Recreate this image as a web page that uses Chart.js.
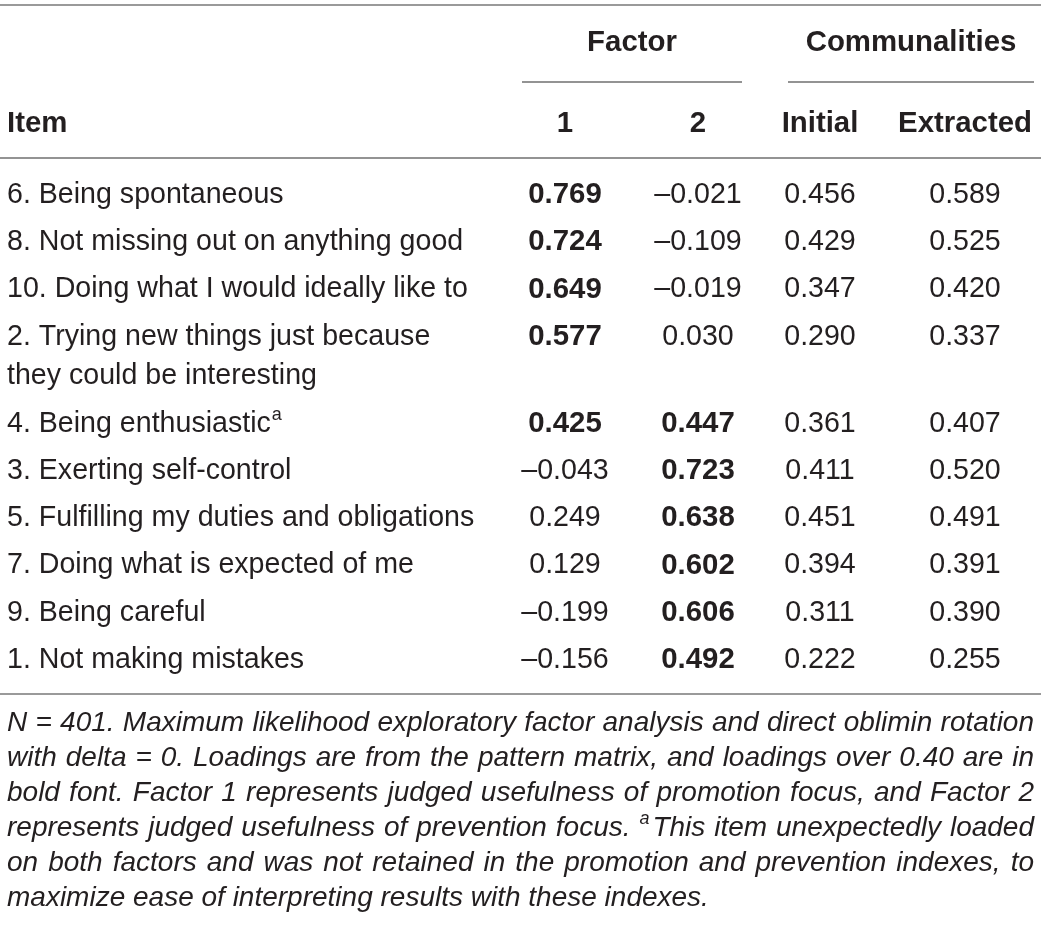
<!DOCTYPE html>
<html>
<head>
<meta charset="utf-8">
<script src="https://cdn.jsdelivr.net/npm/chart.js@4.4.1/dist/chart.umd.min.js"></script>
<style>
  html, body { margin: 0; padding: 0; background: #fff; }
  #wrap { width: 1041px; height: 930px; }
</style>
</head>
<body>
<div id="wrap"><canvas id="factorTable" width="1041" height="930"></canvas></div>
<script>
// table content
const items = [
  "6. Being spontaneous",
  "8. Not missing out on anything good",
  "10. Doing what I would ideally like to",
  "2. Trying new things just because|they could be interesting",
  "4. Being enthusiastic",
  "3. Exerting self-control",
  "5. Fulfilling my duties and obligations",
  "7. Doing what is expected of me",
  "9. Being careful",
  "1. Not making mistakes",
];
const itemMarks = ["", "", "", "", "a", "", "", "", "", ""];

const factor1 = [0.769, 0.724, 0.649, 0.577, 0.425, -0.043, 0.249, 0.129, -0.199, -0.156];
const factor2 = [-0.021, -0.109, -0.019, 0.030, 0.447, 0.723, 0.638, 0.602, 0.606, 0.492];
const initial = [0.456, 0.429, 0.347, 0.290, 0.361, 0.411, 0.451, 0.394, 0.311, 0.222];
const extracted = [0.589, 0.525, 0.420, 0.337, 0.407, 0.520, 0.491, 0.391, 0.390, 0.255];

const columnHeads = ["1", "2", "Initial", "Extracted"];
const groupHeads = ["Factor", "Communalities"];
const itemHead = "Item";
const boldOver = 0.40;

const footnote = [
  "N = 401. Maximum likelihood exploratory factor analysis and direct oblimin rotation",
  "with delta = 0. Loadings are from the pattern matrix, and loadings over 0.40 are in",
  "bold font. Factor 1 represents judged usefulness of promotion focus, and Factor 2",
  "represents judged usefulness of prevention focus. ^aThis item unexpectedly loaded",
  "on both factors and was not retained in the promotion and prevention indexes, to",
  "maximize ease of interpreting results with these indexes.",
];

// layout (pixels on the 1041 x 930 canvas)
const FONT = "'Liberation Sans', Arial, Helvetica, sans-serif";
const REG = "28.6px " + FONT;
const BOLD = "bold 29.4px " + FONT;
const NOTE = "italic 28px " + FONT;
const NOTE_SUP = "italic 18px " + FONT;
const INK = "#231f20";
const layout = {
  itemX: 7,
  colX: [565, 698, 820, 965],
  groupSpan: [[522, 742], [788, 1034]],
  groupY: 43,
  headY: 124,
  firstRowY: 195,
  rowStep: 47.3,
  wrapStep: 39.5,
  topRule: 5,
  underline: 82,
  headRule: 158,
  bottomRule: 694,
  noteY: 723,
  noteStep: 35,
  left: 7,
  right: 1034,
};

function fmt(v) {
  const s = Math.abs(v).toFixed(3);
  return v < 0 ? "\u2013" + s : s;
}

// row centres, a wrapped item pushes the following rows down
const rowY = [];
let yAcc = layout.firstRowY;
items.forEach((label) => {
  rowY.push(yAcc);
  yAcc += layout.rowStep + (label.split("|").length - 1) * layout.wrapStep;
});

const numCols = [factor1, factor2, initial, extracted];
const datasets = [
  {
    label: itemHead,
    data: items.map((t, i) => ({ x: layout.itemX, y: rowY[i] })),
    cells: items.map((t, i) => ({ text: t, mark: itemMarks[i], bold: false })),
    align: "left",
  },
].concat(
  numCols.map((vals, c) => ({
    label: columnHeads[c],
    data: vals.map((v, i) => ({ x: layout.colX[c], y: rowY[i] })),
    cells: vals.map((v) => ({ text: fmt(v), bold: c < 2 && Math.abs(v) > boldOver })),
    align: "center",
  }))
);
datasets.forEach((d) => { d.pointRadius = 0; d.showLine = false; });

function hLine(ctx, x0, x1, yy, w, col) {
  ctx.beginPath();
  ctx.strokeStyle = col;
  ctx.lineWidth = w;
  ctx.moveTo(x0, yy);
  ctx.lineTo(x1, yy);
  ctx.stroke();
}

const tablePlugin = {
  id: "tableText",
  afterDatasetsDraw(chart) {
    const ctx = chart.ctx;
    const sx = chart.scales.x;
    const sy = chart.scales.y;
    const px = (v) => sx.getPixelForValue(v);
    const py = (v) => sy.getPixelForValue(v);
    ctx.save();

    // rules
    hLine(ctx, 0, px(1041), py(layout.topRule), 2, "#9a9a9a");
    hLine(ctx, 0, px(1041), py(layout.headRule), 1.6, "#6f6f6f");
    hLine(ctx, 0, px(1041), py(layout.bottomRule), 2, "#9a9a9a");
    layout.groupSpan.forEach((s) => hLine(ctx, px(s[0]), px(s[1]), py(layout.underline), 1.6, "#6f6f6f"));

    ctx.fillStyle = INK;
    ctx.textBaseline = "middle";

    // headers
    ctx.font = BOLD;
    ctx.textAlign = "center";
    groupHeads.forEach((g, i) => {
      const s = layout.groupSpan[i];
      ctx.fillText(g, px((s[0] + s[1]) / 2), py(layout.groupY));
    });
    columnHeads.forEach((h, c) => ctx.fillText(h, px(layout.colX[c]), py(layout.headY)));
    ctx.textAlign = "left";
    ctx.fillText(itemHead, px(layout.itemX), py(layout.headY));

    // cells
    chart.data.datasets.forEach((ds, di) => {
      const meta = chart.getDatasetMeta(di);
      meta.data.forEach((pt, i) => {
        const cell = ds.cells[i];
        ctx.font = cell.bold ? BOLD : REG;
        ctx.textAlign = ds.align;
        const lines = cell.text.split("|");
        lines.forEach((ln, k) => {
          ctx.fillText(ln, pt.x, pt.y + k * layout.wrapStep);
        });
        if (cell.mark) {
          const w = ctx.measureText(lines[lines.length - 1]).width;
          ctx.font = "18px " + FONT;
          ctx.textAlign = "left";
          ctx.fillText(cell.mark, pt.x + w + 1, pt.y - 9);
        }
      });
    });

    // footnote, justified
    const full = px(layout.right) - px(layout.left);
    footnote.forEach((line, li) => {
      const yy = py(layout.noteY + li * layout.noteStep);
      const words = line.split(" ");
      ctx.font = NOTE;
      const widths = words.map((w) => {
        if (w.startsWith("^")) {
          ctx.font = NOTE_SUP;
          const a = ctx.measureText(w[1]).width;
          ctx.font = NOTE;
          return a + 3 + ctx.measureText(w.slice(2)).width;
        }
        return ctx.measureText(w).width;
      });
      const sum = widths.reduce((a, b) => a + b, 0);
      const space = ctx.measureText(" ").width;
      const gap = li < footnote.length - 1 ? (full - sum) / (words.length - 1) : space;
      let xx = px(layout.left);
      ctx.textAlign = "left";
      words.forEach((w, k) => {
        if (w.startsWith("^")) {
          ctx.font = NOTE_SUP;
          ctx.fillText(w[1], xx, yy - 9);
          const a = ctx.measureText(w[1]).width;
          ctx.font = NOTE;
          ctx.fillText(w.slice(2), xx + a + 3, yy);
        } else {
          ctx.fillText(w, xx, yy);
        }
        xx += widths[k] + gap;
      });
    });
    ctx.restore();
  },
};

new Chart("factorTable", {
  type: "scatter",
  data: { datasets: datasets },
  options: {
    responsive: false,
    animation: false,
    devicePixelRatio: 1,
    layout: { padding: 0 },
    events: [],
    scales: {
      x: { type: "linear", min: 0, max: 1041, display: false },
      y: { type: "linear", min: 0, max: 930, reverse: true, display: false },
    },
    plugins: {
      legend: { display: false },
      tooltip: { enabled: false },
    },
  },
  plugins: [tablePlugin],
});
</script>
</body>
</html>
